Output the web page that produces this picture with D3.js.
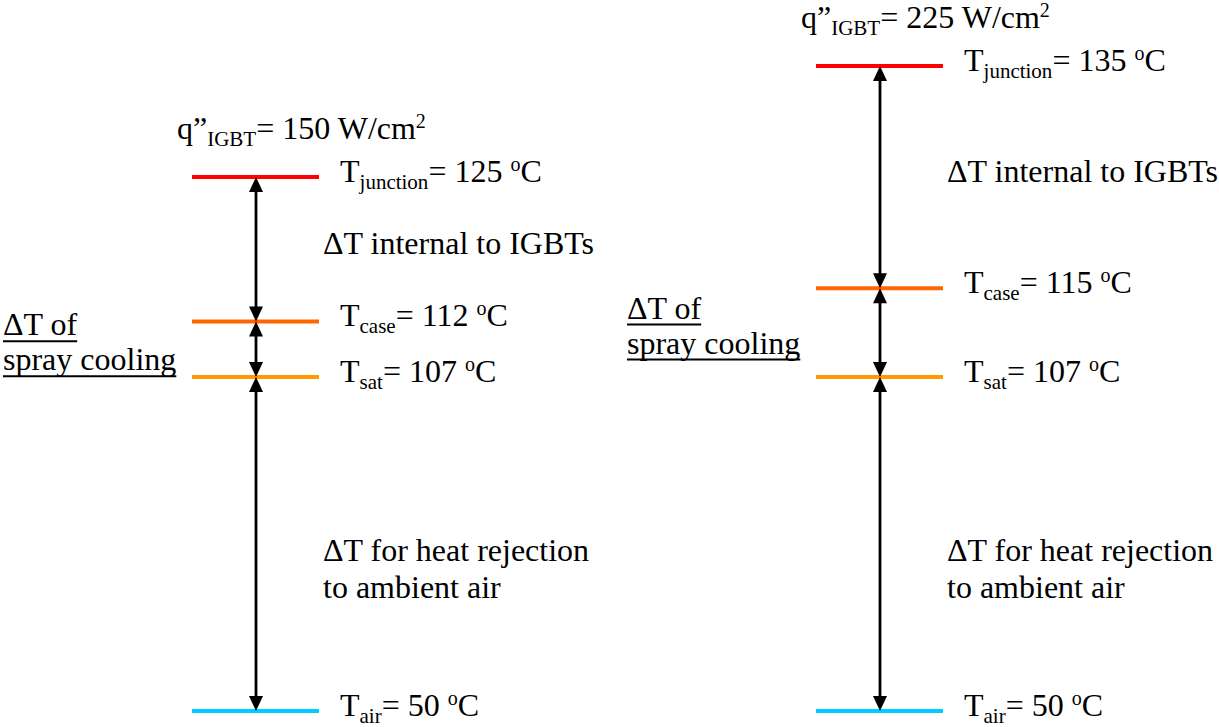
<!DOCTYPE html>
<html>
<head>
<meta charset="utf-8">
<script src="https://cdn.jsdelivr.net/npm/d3@7"></script>
</head>
<body style="margin:0">
<svg id="chart" width="1219" height="727" style="font-family:'Times New Roman'"></svg>
<script>
// ---- data ----
const panels = ["150", "225"];
const heatFlux = [150, 225];                       // W/cm2
const levelNames = ["junction", "case", "sat", "air"];
const tempsLeft = [125, 112, 107, 50];             // °C
const tempsRight = [135, 115, 107, 50];            // °C
const gapInternal = ["ΔT internal to IGBTs"];
const gapSpray = ["ΔT of", "spray cooling"];
const gapAmbient = ["ΔT for heat rejection", "to ambient air"];

// ---- styles ----
const levelColors = ["#ff0000", "#ff6600", "#ff9900", "#00ccff"];
const FONT = "'Times New Roman'";
const FS = 32, FS_SMALL = 21;

const svg = d3.select("#chart");
svg.append("rect").attr("width", 1219).attr("height", 727).attr("fill", "#fff");

// schematic temperature scale: broken at the saturation temperature
const y = d3.scaleLinear().domain([50, 107, 135]).range([711, 377, 66]);
const x = d3.scalePoint().domain(panels).range([256, 880]);

function txt(g, tx, ty, s) {
  return g.append("text").attr("x", tx).attr("y", ty)
    .style("font-family", FONT).attr("font-size", FS).text(s);
}

function richText(g, tx, ty, parts) {
  const t = g.append("text").attr("x", tx).attr("y", ty)
    .style("font-family", FONT).attr("font-size", FS);
  let cur = 0;
  parts.forEach(p => {
    const off = p.k === "sub" ? 7 : p.k === "sup" ? -11 : 0;
    t.append("tspan")
      .attr("dy", off - cur)
      .attr("font-size", p.k === "main" ? FS : (p.k === "sup" ? 20 : FS_SMALL))
      .text(p.t);
    cur = off;
  });
  return t;
}

const allTemps = [tempsLeft, tempsRight];

panels.forEach((p, i) => {
  const g = svg.append("g");
  const cx = x(p);
  const temps = allTemps[i];
  const ys = temps.map(t => y(t));

  // heat flux label
  richText(g, cx - 79, ys[0] - 38, [
    {k: "main", t: "q”"}, {k: "sub", t: "IGBT"}, {k: "main", t: "= " + heatFlux[i] + " W/cm"}, {k: "sup", t: "2"}
  ]);

  // level lines
  temps.forEach((t, j) => {
    g.append("line")
      .attr("x1", cx - 64).attr("x2", cx + 63)
      .attr("y1", y(t)).attr("y2", y(t))
      .attr("stroke", levelColors[j]).attr("stroke-width", 4);
    richText(g, cx + 84, y(t) + 5, [
      {k: "main", t: "T"}, {k: "sub", t: levelNames[j]}, {k: "main", t: "= " + t + " "}, {k: "sup", t: "o"}, {k: "main", t: "C"}
    ]);
  });

  // double-headed arrows between consecutive levels
  const AH = 15, AW = 7;
  for (let j = 0; j < temps.length - 1; j++) {
    const yTop = ys[j], yBot = ys[j + 1];
    g.append("line")
      .attr("x1", cx).attr("x2", cx)
      .attr("y1", yTop + AH - 1).attr("y2", yBot - AH + 1)
      .attr("stroke", "#000").attr("stroke-width", 2.8);
    g.append("path")
      .attr("d", `M${cx},${yTop} L${cx - AW},${yTop + AH} L${cx + AW},${yTop + AH} Z`)
      .attr("fill", "#000");
    g.append("path")
      .attr("d", `M${cx},${yBot} L${cx - AW},${yBot - AH} L${cx + AW},${yBot - AH} Z`)
      .attr("fill", "#000");
  }

  // gap labels
  const midInt = (ys[0] + ys[1]) / 2;
  gapInternal.forEach((s, k) => txt(g, cx + 67, midInt + 5 + k * 37, s));
  const midAmb = (ys[2] + ys[3]) / 2;
  gapAmbient.forEach((s, k) => txt(g, cx + 67, midAmb + 17 + k * 37, s));
  const midSpray = (ys[1] + ys[2]) / 2;
  gapSpray.forEach((s, k) => {
    const by = midSpray - 14 + k * 35;
    const t = txt(g, cx - 253, by, s);
    const w = t.node().getComputedTextLength();
    g.append("line")
      .attr("x1", cx - 253).attr("x2", cx - 253 + w)
      .attr("y1", by + 6).attr("y2", by + 6)
      .attr("stroke", "#000").attr("stroke-width", 2);
  });
});
</script>
</body>
</html>
